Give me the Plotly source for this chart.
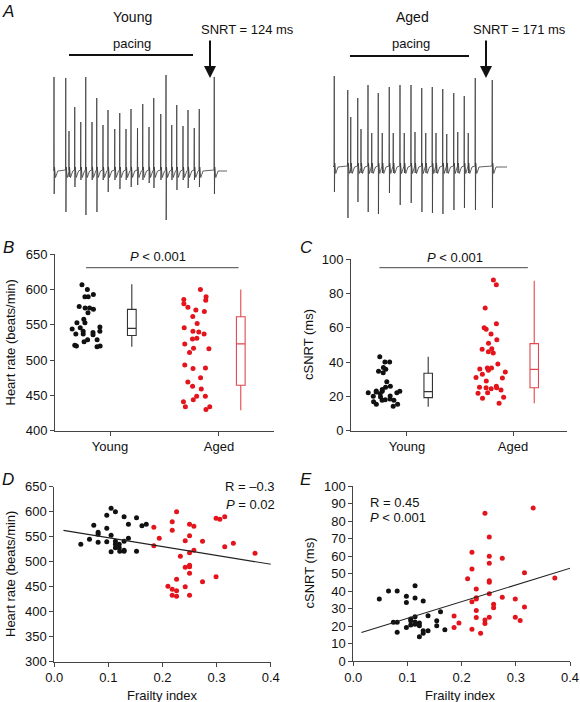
import plotly.graph_objects as go

W, H = 580, 702


def px(x):
    return x / W


def py(y):
    return 1 - y / H


# ---------------- Panel A: ECG traces (time in ms, amplitude in mV) ----------------
young_t = [8, 102, 128, 174, 222, 262, 312, 350, 400, 440, 494, 534, 584, 624, 676, 718,
           768, 806, 862, 904, 950, 990, 1040, 1080, 1130, 1170, 1290]
young_top = [1.88, 1.86, 0.80, 1.28, 0.98, 1.88, 0.98, 1.46, 0.92, 1.22, 0.84, 1.16, 0.84, 1.24,
             0.86, 1.34, 0.88, 1.46, 1.14, 1.92, 0.92, 1.32, 0.90, 1.22, 0.86, 1.24, 1.88]
young_bottom = [-0.46, -0.82, -0.12, -0.32, -0.18, -0.88, -0.18, -0.82, -0.18, -0.42, -0.18, -0.36,
                -0.18, -0.32, -0.28, -0.18, -0.24, -0.34, -0.18, -0.98, -0.18, -0.38, -0.18, -0.34,
                -0.18, -0.32, -0.46]
aged_t = [10, 118, 142, 198, 224, 280, 310, 362, 394, 450, 482, 536, 570, 624, 656, 710, 742,
          794, 824, 878, 910, 966, 998, 1050, 1082, 1138, 1274]
aged_top = [1.82, 1.54, 1.00, 1.38, 0.76, 1.64, 0.68, 1.48, 0.68, 1.60, 0.68, 1.64, 0.68, 1.64,
            0.70, 1.58, 0.68, 1.60, 0.68, 1.56, 0.66, 1.48, 0.70, 1.42, 0.68, 1.78, 1.74]
aged_bottom = [-0.50, -1.02, -0.12, -0.70, -0.12, -0.90, -0.12, -0.94, -0.12, -0.52, -0.12, -0.76,
               -0.12, -0.72, -0.12, -0.90, -0.12, -0.92, -0.12, -0.94, -0.12, -0.86, -0.12, -0.82,
               -0.12, -0.86, -0.82]
trace_end_ms = 1392

# ---------------- Panel B: heart rate ----------------
groups = ["Young", "Aged"]
young_hr = [607, 600, 593, 590, 590, 574, 576, 574, 572, 567, 558, 553, 553, 547, 544, 546, 541,
            539, 536, 537, 541, 537, 529, 526, 529, 520, 519, 520, 521]
aged_hr = [600, 590, 585, 586, 580, 575, 571, 569, 562, 552, 546, 541, 540, 537, 531, 530, 523,
           517, 516, 511, 493, 488, 489, 475, 469, 463, 459, 449, 449, 444, 441, 434, 434, 430]
hr_box_young = dict(lowerfence=519, q1=535, median=545, q3=572, upperfence=607.5)
hr_box_aged = dict(lowerfence=429, q1=464.5, median=523, q3=561.6, upperfence=600)

# ---------------- Panel C: cSNRT ----------------
young_csnrt = [43.2, 40.1, 40.1, 36.8, 35.8, 34.7, 33.8, 28.6, 25.9, 25.3, 24.1, 23.2, 23.0, 23.0,
               22.6, 22.2, 22.2, 21.5, 20.2, 20.1, 19.7, 18.5, 18.1, 17.7, 17.7, 16.9, 15.4, 15.4, 14.2]
aged_csnrt = [87.9, 85.2, 71.6, 62.4, 60.1, 59.2, 56.4, 53.1, 51.0, 47.8, 47.5, 46.1, 45.3, 38.9,
              36.6, 36.6, 36.0, 35.2, 34.2, 32.9, 31.1, 30.7, 29.0, 25.9, 25.3, 25.1, 25.1, 24.5,
              23.7, 22.2, 21.8, 19.5, 18.9, 16.0]
cs_box_young = dict(lowerfence=14, q1=19.3, median=22.8, q3=33.5, upperfence=43.2)
cs_box_aged = dict(lowerfence=16, q1=25.1, median=35.8, q3=50.8, upperfence=87.5)

# ---------------- Panel D: frailty vs heart rate ----------------
young_fi_d = [0.049, 0.065, 0.073, 0.081, 0.081, 0.081, 0.097, 0.097, 0.097, 0.105, 0.105, 0.105,
              0.113, 0.113, 0.113, 0.113, 0.120, 0.120, 0.121, 0.129, 0.129, 0.129, 0.129, 0.137,
              0.137, 0.152, 0.152, 0.162, 0.170]
young_hr_d = [535, 545, 573, 555, 559, 539, 593, 567, 540, 607, 553, 520, 600, 541, 535, 528, 535,
              528, 521, 523, 541, 590, 521, 575, 547, 588, 521, 572, 575]
aged_fi_d = [0.184, 0.184, 0.194, 0.210, 0.218, 0.218, 0.218, 0.218, 0.226, 0.226, 0.226, 0.226,
             0.233, 0.242, 0.242, 0.242, 0.250, 0.250, 0.250, 0.250, 0.250, 0.250, 0.250, 0.258,
             0.258, 0.274, 0.274, 0.299, 0.306, 0.299, 0.315, 0.315, 0.331, 0.371]
aged_hr_d = [569, 532, 547, 451, 563, 580, 445, 433, 600, 465, 442, 431, 511, 542, 489, 450, 575,
             552, 518, 493, 490, 477, 433, 571, 523, 541, 460, 587, 585, 470, 590, 530, 537, 517]
fit_d = dict(slope=-176.6, intercept=565.6, x0=0.017, x1=0.402)

# ---------------- Panel E: frailty vs cSNRT ----------------
young_fi_e = [0.048, 0.065, 0.074, 0.081, 0.081, 0.081, 0.098, 0.098, 0.098, 0.106, 0.106, 0.106,
              0.114, 0.114, 0.114, 0.114, 0.114, 0.122, 0.122, 0.122, 0.129, 0.129, 0.129, 0.138,
              0.138, 0.154, 0.154, 0.161, 0.169]
young_cs_e = [35.4, 40, 22.1, 22.1, 16.4, 40, 37, 33.5, 19.2, 24, 23, 20.6, 43, 36, 25.3, 22.3, 21,
              21.7, 20.2, 13.9, 34.3, 17.3, 15.8, 25.9, 17.3, 23, 20.2, 28.2, 17.9]
aged_fi_e = [0.186, 0.186, 0.195, 0.211, 0.219, 0.219, 0.219, 0.219, 0.227, 0.227, 0.227, 0.227,
             0.227, 0.235, 0.243, 0.243, 0.243, 0.251, 0.251, 0.251, 0.251, 0.251, 0.251, 0.251,
             0.259, 0.259, 0.275, 0.275, 0.299, 0.299, 0.308, 0.316, 0.316, 0.332, 0.372]
aged_cs_e = [25.7, 19.2, 21.7, 47, 62.1, 52.6, 33.9, 18.1, 41.1, 35.4, 36.2, 28.8, 24.8, 15.8, 84.4,
             23.4, 21.5, 70.9, 59.8, 55.8, 45.9, 45, 38.5, 25, 32.4, 30.5, 58.7, 36.4, 35.4, 25,
             23.2, 50.5, 30.9, 87.4, 47.4]
fit_e = dict(slope=95.2, intercept=14.9, x0=0.015, x1=0.403)

# ---------------- styles ----------------
BLACK = "#111111"
RED = "#e3141c"
RED_BOX = "#e4464e"
AX = "#444444"
FONT = "Arial, Liberation Sans, Helvetica, sans-serif"

fig = go.Figure()


def ecg_path(t, top, bot, t_end):
    xs, ys = [0.0], [0.0]
    for ti, a, b in zip(t, top, bot):
        xs += [ti - 2, ti, ti + 1.5, ti + 4, ti + 12, ti + 20, ti + 30]
        ys += [0.02, a, b, 0.08, -0.13, -0.05, 0.0]
    xs.append(t_end)
    ys.append(0.0)
    return xs, ys


for t, top, bot, xa, ya in [(young_t, young_top, young_bottom, "x", "y"),
                            (aged_t, aged_top, aged_bottom, "x2", "y2")]:
    xs, ys = ecg_path(t, top, bot, trace_end_ms)
    fig.add_trace(go.Scatter(x=xs, y=ys, mode="lines", xaxis=xa, yaxis=ya,
                             line=dict(color="#3a3a3a", width=0.8), hoverinfo="skip"))

# dot + box panels
DOT_OFF = -0.2
BOX_OFF = 0.2


def dots(vals, pos, color, xa, ya):
    fig.add_trace(go.Box(y=vals, x=[pos + DOT_OFF] * len(vals), xaxis=xa, yaxis=ya,
                         boxpoints="all", jitter=1, pointpos=0, width=0.34,
                         line=dict(color="rgba(0,0,0,0)", width=0),
                         fillcolor="rgba(0,0,0,0)",
                         marker=dict(color=color, size=5), hoverinfo="y"))


def box(stats, pos, color, xa, ya):
    fig.add_trace(go.Box(x=[pos + BOX_OFF], q1=[stats["q1"]], median=[stats["median"]],
                         q3=[stats["q3"]], lowerfence=[stats["lowerfence"]],
                         upperfence=[stats["upperfence"]], xaxis=xa, yaxis=ya,
                         width=0.08, whiskerwidth=0, boxpoints=False,
                         line=dict(color=color, width=1.1),
                         fillcolor="rgba(255,255,255,0)"))


dots(young_hr, 1, BLACK, "x3", "y3")
dots(aged_hr, 2, RED, "x3", "y3")
box(hr_box_young, 1, "#333333", "x3", "y3")
box(hr_box_aged, 2, RED_BOX, "x3", "y3")

dots(young_csnrt, 1, BLACK, "x4", "y4")
dots(aged_csnrt, 2, RED, "x4", "y4")
box(cs_box_young, 1, "#333333", "x4", "y4")
box(cs_box_aged, 2, RED_BOX, "x4", "y4")

# scatter panels
for fx, fy, col, xa, ya in [(young_fi_d, young_hr_d, BLACK, "x5", "y5"),
                            (aged_fi_d, aged_hr_d, RED, "x5", "y5"),
                            (young_fi_e, young_cs_e, BLACK, "x6", "y6"),
                            (aged_fi_e, aged_cs_e, RED, "x6", "y6")]:
    fig.add_trace(go.Scatter(x=fx, y=fy, mode="markers", xaxis=xa, yaxis=ya,
                             marker=dict(color=col, size=5)))

for fit, xa, ya in [(fit_d, "x5", "y5"), (fit_e, "x6", "y6")]:
    xx = [fit["x0"], fit["x1"]]
    yy = [fit["slope"] * v + fit["intercept"] for v in xx]
    fig.add_trace(go.Scatter(x=xx, y=yy, mode="lines", xaxis=xa, yaxis=ya,
                             line=dict(color="#222222", width=1.1), hoverinfo="skip"))

# ---------------- axes ----------------
base = dict(showline=True, linecolor=AX, linewidth=1, ticks="outside", ticklen=4,
            tickcolor=AX, tickwidth=1, tickfont=dict(size=13, color="#111111"),
            showgrid=False, zeroline=False, fixedrange=True, automargin=False)
hidden = dict(visible=False, fixedrange=True)

layout = dict(
    width=W, height=H, margin=dict(l=0, r=0, t=0, b=0, pad=0),
    paper_bgcolor="white", plot_bgcolor="white", showlegend=False,
    font=dict(family=FONT, color="#111111"), boxmode="overlay",
    xaxis=dict(hidden, domain=[px(53), px(227)], range=[0, trace_end_ms], anchor="y"),
    yaxis=dict(hidden, domain=[py(225), py(70)], range=[-1.08, 2.02], anchor="x"),
    xaxis2=dict(hidden, domain=[px(333), px(507)], range=[0, trace_end_ms], anchor="y2"),
    yaxis2=dict(hidden, domain=[py(225), py(70)], range=[-1.16, 1.94], anchor="x2"),
    xaxis3=dict(base, domain=[px(55), px(274)], range=[0.495, 2.505], tickvals=[1, 2],
                ticktext=groups, anchor="y3"),
    yaxis3=dict(base, domain=[py(430.7), py(254.3)], range=[400, 650],
                tickvals=[400, 450, 500, 550, 600, 650], anchor="x3"),
    xaxis4=dict(base, domain=[px(351), px(567)], range=[0.472, 2.509], tickvals=[1, 2],
                ticktext=groups, anchor="y4"),
    yaxis4=dict(base, domain=[py(430.7), py(259.3)], range=[0, 100],
                tickvals=[0, 20, 40, 60, 80, 100], anchor="x4"),
    xaxis5=dict(base, domain=[px(54.3), px(270.7)], range=[0, 0.4],
                tickvals=[0, 0.1, 0.2, 0.3, 0.4], ticktext=["0.0", "0.1", "0.2", "0.3", "0.4"],
                anchor="y5"),
    yaxis5=dict(base, domain=[py(661.7), py(486.7)], range=[300, 650],
                tickvals=[300, 350, 400, 450, 500, 550, 600, 650], anchor="x5"),
    xaxis6=dict(base, domain=[px(353.3), px(570)], range=[0, 0.4],
                tickvals=[0, 0.1, 0.2, 0.3, 0.4], ticktext=["0.0", "0.1", "0.2", "0.3", "0.4"],
                anchor="y6"),
    yaxis6=dict(base, domain=[py(661), py(486)], range=[0, 100],
                tickvals=list(range(0, 101, 10)), anchor="x6"),
)
fig.update_layout(**layout)

# ---------------- annotations ----------------
ann = []


def text(x, y, s, size=13, xanchor="center", italic=False, angle=0):
    ann.append(dict(x=px(x), y=py(y), xref="paper", yref="paper", text=s, showarrow=False,
                    xanchor=xanchor, yanchor="middle", textangle=angle,
                    font=dict(size=size, color="#111111", family=FONT,
                              style="italic" if italic else "normal")))


# panel letters
for lx, ly, s in [(8, 11, "A"), (8, 247, "B"), (306, 247, "C"), (8, 479, "D"), (306, 479, "E")]:
    text(lx, ly, s, size=17, italic=True)

# panel A labels
text(132, 17, "Young", size=14)
text(132, 43, "pacing", size=13)
text(199, 29, "SNRT = 124 ms", size=13, xanchor="left")
text(412, 17, "Aged", size=14)
text(411, 43, "pacing", size=13)
text(519, 29, "SNRT = 171 ms", size=13)

# arrows
for axp in [210, 486]:
    ann.append(dict(x=px(axp), y=py(78), xref="paper", yref="paper", text="", showarrow=True,
                    ax=0, ay=-39, arrowhead=2, arrowsize=1.2, arrowwidth=2, arrowcolor="#111111"))

# significance text
text(158, 256.5, "<i>P</i> < 0.001", size=13)
text(455, 257, "<i>P</i> < 0.001", size=13)

# y titles
text(10, 342.5, "Heart rate (beats/min)", size=13, angle=-90)
text(308, 345, "cSNRT (ms)", size=13, angle=-90)
text(10, 574, "Heart rate (beats/min)", size=13, angle=-90)
text(309, 573.5, "cSNRT (ms)", size=13, angle=-90)

# x titles
text(162, 695, "Frailty index", size=13)
text(460, 695, "Frailty index", size=13)

# stats
text(277, 486.7, "R = \u20130.3", size=13, xanchor="right")
text(277, 504.3, "<i>P</i> = 0.02", size=13, xanchor="right")
text(368, 502.3, "R = 0.45", size=13, xanchor="left")
text(368, 517.7, "<i>P</i> < 0.001", size=13, xanchor="left")

fig.update_layout(annotations=ann)

# shapes: pacing bars and significance lines
shapes = [
    dict(type="line", xref="paper", yref="paper", x0=px(69), x1=px(193), y0=py(55), y1=py(55),
         line=dict(color="#111111", width=2)),
    dict(type="line", xref="paper", yref="paper", x0=px(350), x1=px(469), y0=py(56), y1=py(56),
         line=dict(color="#111111", width=2)),
    dict(type="line", xref="x3", yref="y3", x0=0.78, x1=2.18, y0=631, y1=631,
         line=dict(color=AX, width=1)),
    dict(type="line", xref="x4", yref="y4", x0=0.74, x1=2.14, y0=95.1, y1=95.1,
         line=dict(color=AX, width=1)),
]
fig.update_layout(shapes=shapes)

fig.write_html(
    "out.html",
    config={"displayModeBar": False, "responsive": False},
    post_script="document.body.style.margin='0';document.body.style.padding='0';"
                "document.body.style.overflow='hidden';"
                "document.documentElement.style.overflow='hidden';",
)
